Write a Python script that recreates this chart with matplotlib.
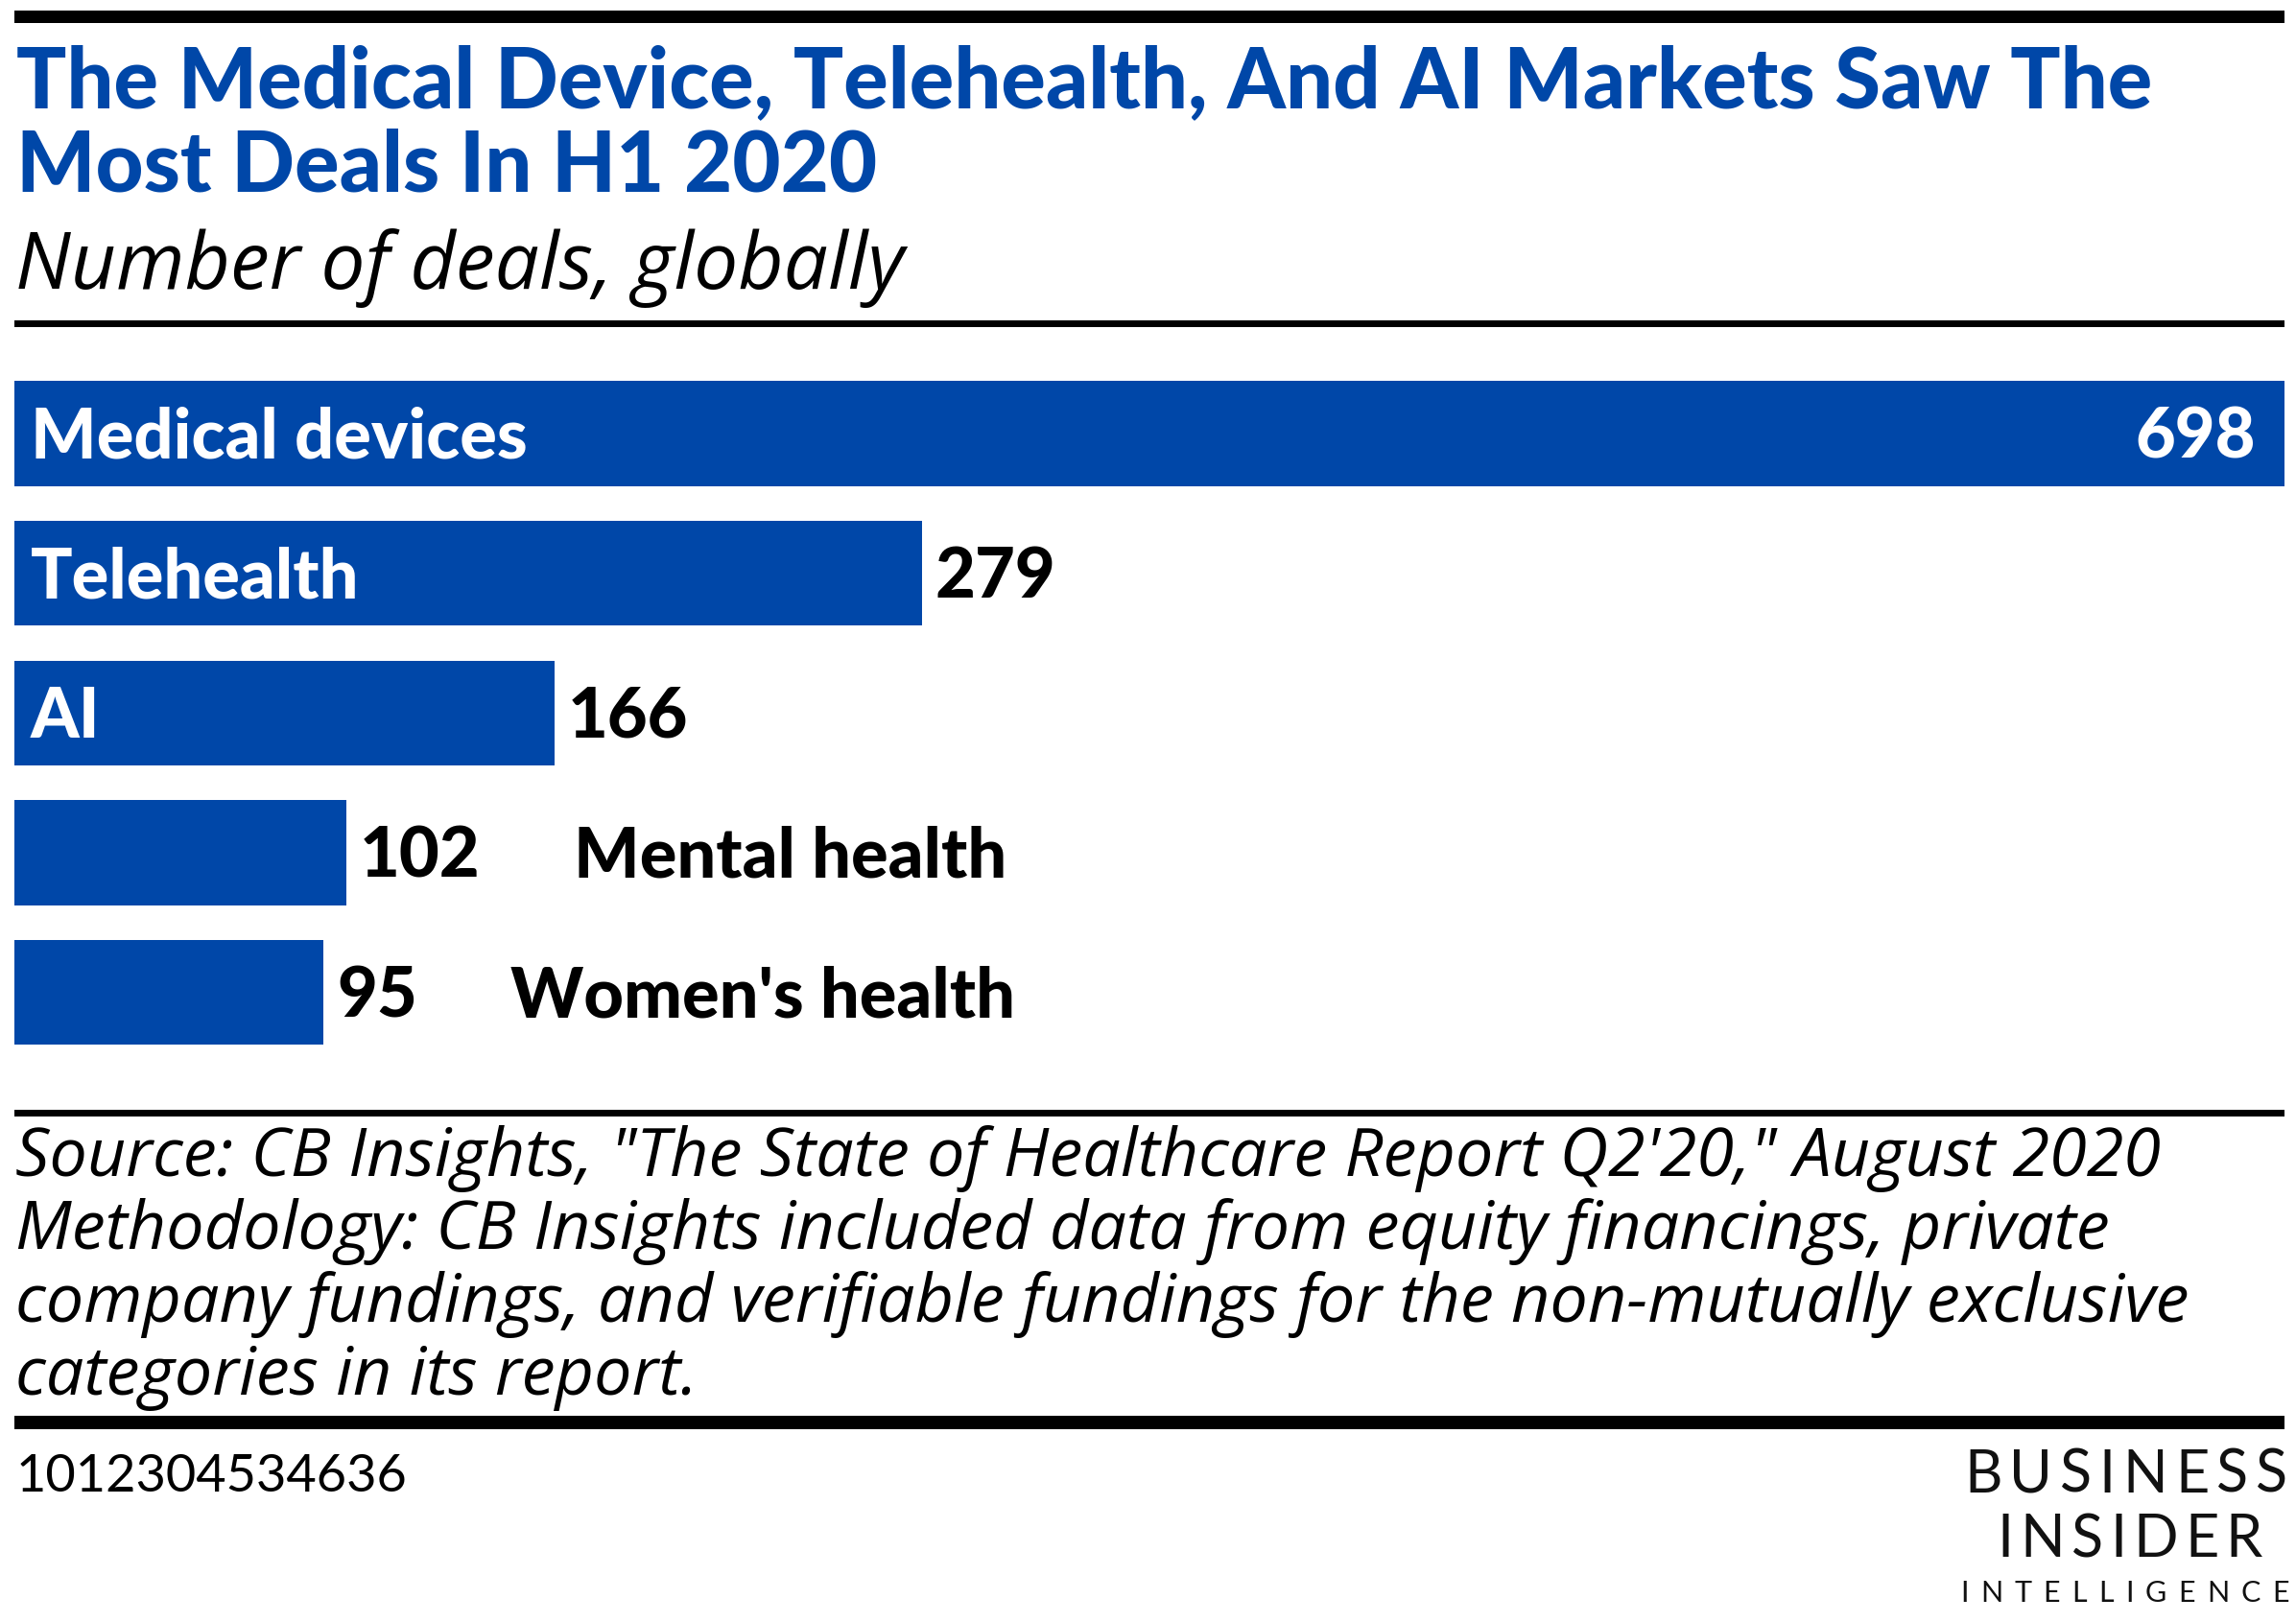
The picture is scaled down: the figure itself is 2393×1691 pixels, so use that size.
import matplotlib
matplotlib.use("Agg")
import matplotlib.pyplot as plt
from matplotlib.patches import Rectangle

W, H = 2393, 1691
BLUE = "#0047A8"
BOLD = "Lato"
ITAL = "Open Sans"

categories = ["Medical devices", "Telehealth", "AI", "Mental health", "Women's health"]
deals = [698, 279, 166, 102, 95]
label_inside = [True, True, True, False, False]

title_lines = ["The Medical Device, Telehealth, And AI Markets Saw The",
               "Most Deals In H1 2020"]
subtitle = "Number of deals, globally"
source_lines = [
    "Source: CB Insights, \"The State of Healthcare Report Q2'20,\" August 2020",
    "Methodology: CB Insights included data from equity financings, private",
    "company fundings, and verifiable fundings for the non-mutually exclusive",
    "categories in its report.",
]
chart_id = "1012304534636"


def fx(x):
    return x / W


def fy(y):
    return 1 - y / H


def rule(fig, y0, y1, x0=15, x1=2381):
    fig.add_artist(Rectangle((fx(x0), fy(y1)), fx(x1) - fx(x0), fy(y0) - fy(y1),
                             transform=fig.transFigure, color="black", lw=0))


def spaced(fig, text, x0, x1, y, size):
    # logo lettering with wide tracking: spread glyphs evenly from x0 to x1
    r = fig.canvas.get_renderer()
    chars = [fig.text(0, fy(y), ch, ha="left", va="baseline", fontsize=size,
                      family=BOLD, color="#111111") for ch in text]
    widths = [c.get_window_extent(r).width for c in chars]
    gap = (x1 - x0 - sum(widths)) / (len(chars) - 1)
    x = x0
    for c, w in zip(chars, widths):
        c.set_x(fx(x))
        x += w + gap


fig = plt.figure(figsize=(W / 100, H / 100), dpi=100)

rule(fig, 11, 24)
for k, line in enumerate(title_lines):
    fig.text(fx(17), fy(112 + 88 * k), line, fontsize=62.5, fontweight="black",
             family=BOLD, color=BLUE, va="baseline")
fig.text(fx(16), fy(301), subtitle, fontsize=59, style="italic",
         family=ITAL, color="black", va="baseline")
rule(fig, 334, 341)

# bars
pitch = 145.7
top = 452 - pitch / 2
ax = fig.add_axes([fx(15), fy(top + pitch * 5), fx(2381) - fx(15), pitch * 5 / H])
ypos = list(range(len(categories)))
ax.barh(ypos, deals, height=0.75, color=BLUE)
ax.set_xlim(0, max(deals))
ax.set_ylim(len(categories) - 0.5, -0.5)
ax.axis("off")

cap_off = -18.4  # points: puts cap-height centre on the bar centre
lab = dict(fontsize=52, fontweight="black", family=BOLD, va="baseline",
           textcoords="offset points")
for i, (cat, v, inside) in enumerate(zip(categories, deals, label_inside)):
    if i == 0:
        ax.annotate(cat, (0, i), xytext=(12, cap_off), color="white", **lab)
        ax.annotate(str(v), (v, i), xytext=(-22, cap_off), color="white",
                    ha="right", **lab)
        continue
    vt = ax.annotate(str(v), (v, i), xytext=(10, cap_off), color="black", **lab)
    if inside:
        ax.annotate(cat, (0, i), xytext=(12, cap_off), color="white", **lab)
    else:
        ax.annotate(cat, (1, i), xycoords=(vt, "data"), xytext=(70, cap_off),
                    color="black", **lab)

rule(fig, 1157, 1164)
for k, line in enumerate(source_lines):
    fig.text(fx(16), fy(1226 + 76 * k), line, fontsize=50.5, style="italic",
             family=ITAL, color="black", va="baseline")
rule(fig, 1476, 1490)

fig.text(fx(17), fy(1555), chart_id, fontsize=39, family=BOLD, color="black",
         va="baseline")
spaced(fig, "BUSINESS", 2047, 2384, 1556, 44)
spaced(fig, "INSIDER", 2081, 2358, 1623, 44)
spaced(fig, "INTELLIGENCE", 2043, 2386, 1670, 22)

fig.savefig("out.png", dpi=100)
plt.close(fig)
